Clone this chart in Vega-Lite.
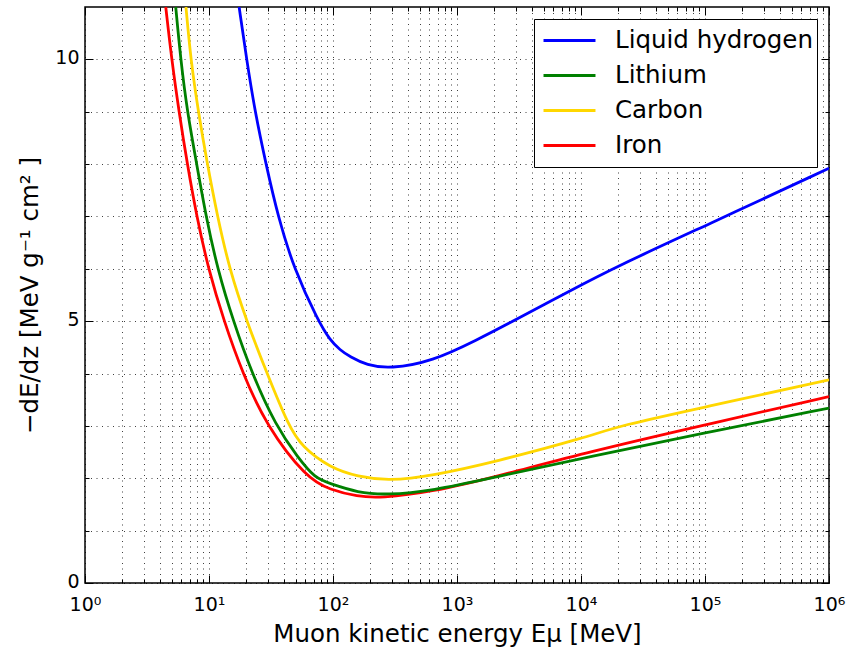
{
  "$schema": "https://vega.github.io/schema/vega-lite/v6.json",
  "width": 744,
  "height": 576,
  "autosize": {"type": "none"},
  "padding": {"left": 85, "top": 7, "right": 19, "bottom": 65},
  "background": "white",
  "config": {
    "font": "DejaVu Sans",
    "view": {"stroke": "black", "strokeWidth": 1.5},
    "legend": {
      "orient": "top-right",
      "offset": 12,
      "strokeColor": "black",
      "fillColor": "white",
      "padding": 4,
      "cornerRadius": 0,
      "symbolType": "stroke",
      "symbolSize": 2700,
      "symbolStrokeWidth": 3,
      "symbolOffset": 4,
      "clipHeight": 35,
      "labelFontSize": 24.5,
      "labelFont": "DejaVu Sans",
      "labelColor": "black",
      "labelLimit": 0,
      "labelOffset": 18,
      "rowPadding": 0
    }
  },
  "data": {
    "values": [
      {"material": "Iron", "E": 4.48, "dEdz": 11.0},
      {"material": "Iron", "E": 5.0, "dEdz": 10},
      {"material": "Iron", "E": 5.73, "dEdz": 9},
      {"material": "Iron", "E": 6.68, "dEdz": 8},
      {"material": "Iron", "E": 7.96, "dEdz": 7},
      {"material": "Iron", "E": 9.87, "dEdz": 6},
      {"material": "Iron", "E": 13.2, "dEdz": 5},
      {"material": "Iron", "E": 18.7, "dEdz": 4},
      {"material": "Iron", "E": 29.1, "dEdz": 3},
      {"material": "Iron", "E": 61.4, "dEdz": 2},
      {"material": "Iron", "E": 94.6, "dEdz": 1.78},
      {"material": "Iron", "E": 158, "dEdz": 1.65},
      {"material": "Iron", "E": 240, "dEdz": 1.62},
      {"material": "Iron", "E": 631, "dEdz": 1.74},
      {"material": "Iron", "E": 2000, "dEdz": 2.02},
      {"material": "Iron", "E": 11750, "dEdz": 2.51},
      {"material": "Iron", "E": 100000, "dEdz": 3.02},
      {"material": "Iron", "E": 1000000, "dEdz": 3.56},

      {"material": "Lithium", "E": 5.39, "dEdz": 11.0},
      {"material": "Lithium", "E": 5.91, "dEdz": 10},
      {"material": "Lithium", "E": 6.68, "dEdz": 9},
      {"material": "Lithium", "E": 7.96, "dEdz": 8},
      {"material": "Lithium", "E": 9.46, "dEdz": 7},
      {"material": "Lithium", "E": 11.7, "dEdz": 6},
      {"material": "Lithium", "E": 15.7, "dEdz": 5},
      {"material": "Lithium", "E": 22.2, "dEdz": 4},
      {"material": "Lithium", "E": 34.6, "dEdz": 3},
      {"material": "Lithium", "E": 52, "dEdz": 2.4},
      {"material": "Lithium", "E": 71.6, "dEdz": 2},
      {"material": "Lithium", "E": 94.6, "dEdz": 1.9},
      {"material": "Lithium", "E": 158, "dEdz": 1.725},
      {"material": "Lithium", "E": 270, "dEdz": 1.68},
      {"material": "Lithium", "E": 631, "dEdz": 1.76},
      {"material": "Lithium", "E": 2000, "dEdz": 2.02},
      {"material": "Lithium", "E": 11750, "dEdz": 2.41},
      {"material": "Lithium", "E": 100000, "dEdz": 2.87},
      {"material": "Lithium", "E": 1000000, "dEdz": 3.34},

      {"material": "Carbon", "E": 6.52, "dEdz": 11.0},
      {"material": "Carbon", "E": 7.12, "dEdz": 10},
      {"material": "Carbon", "E": 8.2, "dEdz": 9},
      {"material": "Carbon", "E": 9.69, "dEdz": 8},
      {"material": "Carbon", "E": 11.7, "dEdz": 7},
      {"material": "Carbon", "E": 14.6, "dEdz": 6},
      {"material": "Carbon", "E": 20.1, "dEdz": 5},
      {"material": "Carbon", "E": 29.4, "dEdz": 4},
      {"material": "Carbon", "E": 43.8, "dEdz": 3},
      {"material": "Carbon", "E": 56.2, "dEdz": 2.6},
      {"material": "Carbon", "E": 94.6, "dEdz": 2.2},
      {"material": "Carbon", "E": 158, "dEdz": 2.03},
      {"material": "Carbon", "E": 282, "dEdz": 1.95},
      {"material": "Carbon", "E": 631, "dEdz": 2.05},
      {"material": "Carbon", "E": 2000, "dEdz": 2.31},
      {"material": "Carbon", "E": 11750, "dEdz": 2.8},
      {"material": "Carbon", "E": 20000, "dEdz": 3.0},
      {"material": "Carbon", "E": 100000, "dEdz": 3.36},
      {"material": "Carbon", "E": 1000000, "dEdz": 3.88},

      {"material": "Liquid hydrogen", "E": 17.5, "dEdz": 11.0},
      {"material": "Liquid hydrogen", "E": 20.1, "dEdz": 10},
      {"material": "Liquid hydrogen", "E": 23.5, "dEdz": 9},
      {"material": "Liquid hydrogen", "E": 28.8, "dEdz": 8},
      {"material": "Liquid hydrogen", "E": 36.0, "dEdz": 7},
      {"material": "Liquid hydrogen", "E": 48.4, "dEdz": 6},
      {"material": "Liquid hydrogen", "E": 76.1, "dEdz": 5},
      {"material": "Liquid hydrogen", "E": 94.6, "dEdz": 4.64},
      {"material": "Liquid hydrogen", "E": 114, "dEdz": 4.45},
      {"material": "Liquid hydrogen", "E": 137, "dEdz": 4.32},
      {"material": "Liquid hydrogen", "E": 187, "dEdz": 4.16},
      {"material": "Liquid hydrogen", "E": 288, "dEdz": 4.09},
      {"material": "Liquid hydrogen", "E": 631, "dEdz": 4.23},
      {"material": "Liquid hydrogen", "E": 1445, "dEdz": 4.64},
      {"material": "Liquid hydrogen", "E": 2830, "dEdz": 5.0},
      {"material": "Liquid hydrogen", "E": 8130, "dEdz": 5.58},
      {"material": "Liquid hydrogen", "E": 20000, "dEdz": 6.06},
      {"material": "Liquid hydrogen", "E": 100000, "dEdz": 6.82},
      {"material": "Liquid hydrogen", "E": 1000000, "dEdz": 7.92}
    ]
  },
  "layer": [
    {
      "mark": {"type": "point", "opacity": 0},
      "encoding": {
        "x": {
          "field": "E", "type": "quantitative",
          "scale": {"type": "log", "domain": [1, 1000000], "nice": false},
          "axis": {
            "orient": "top", "title": null, "labels": false, "grid": false, "domain": false,
            "values": [1,2,3,4,5,6,7,8,9,10,20,30,40,50,60,70,80,90,100,200,300,400,500,600,700,800,900,1000,2000,3000,4000,5000,6000,7000,8000,9000,10000,20000,30000,40000,50000,60000,70000,80000,90000,100000,200000,300000,400000,500000,600000,700000,800000,900000,1000000],
            "tickColor": "black",
            "tickSize": {"condition": {"test": "abs(log(datum.value)/LN10 - round(log(datum.value)/LN10)) < 0.001", "value": -8}, "value": -4}
          }
        },
        "y": {
          "field": "dEdz", "type": "quantitative",
          "scale": {"domain": [0, 11], "nice": false, "zero": false},
          "axis": {
            "orient": "right", "title": null, "labels": false, "grid": false, "domain": false,
            "values": [0,1,2,3,4,5,6,7,8,9,10],
            "tickColor": "black",
            "tickSize": {"condition": {"test": "datum.value % 5 === 0", "value": -8}, "value": -4}
          }
        }
      }
    },
    {
      "mark": {"type": "line", "strokeWidth": 2.8, "clip": true, "interpolate": "basis"},
      "encoding": {
        "x": {
          "field": "E", "type": "quantitative",
          "scale": {"type": "log", "domain": [1, 1000000], "nice": false},
          "axis": {
            "orient": "bottom",
            "title": "Muon kinetic energy Eμ [MeV]",
            "titleFontSize": 24.5, "titleFontWeight": "normal", "titleColor": "black", "titlePadding": 4,
            "domain": false,
            "values": [1,2,3,4,5,6,7,8,9,10,20,30,40,50,60,70,80,90,100,200,300,400,500,600,700,800,900,1000,2000,3000,4000,5000,6000,7000,8000,9000,10000,20000,30000,40000,50000,60000,70000,80000,90000,100000,200000,300000,400000,500000,600000,700000,800000,900000,1000000],
            "grid": true, "gridColor": "black", "gridDash": [1, 4.5], "gridOpacity": 0.75, "gridWidth": 1,
            "tickColor": "black",
            "tickSize": {"condition": {"test": "abs(log(datum.value)/LN10 - round(log(datum.value)/LN10)) < 0.001", "value": -8}, "value": -4},
            "labelExpr": "abs(log(datum.value)/LN10 - round(log(datum.value)/LN10)) < 0.001 ? '10' + ['⁰','¹','²','³','⁴','⁵','⁶'][round(log(datum.value)/LN10)] : ''",
            "labelFontSize": 19, "labelColor": "black", "labelFlush": false, "labelOverlap": false, "labelPadding": 20
          }
        },
        "y": {
          "field": "dEdz", "type": "quantitative",
          "scale": {"domain": [0, 11], "nice": false, "zero": false},
          "axis": {
            "orient": "left",
            "title": "−dE/dz [MeV g⁻¹  cm² ]",
            "titleFontSize": 24.5, "titleFontWeight": "normal", "titleColor": "black", "titlePadding": 12,
            "domain": false,
            "values": [0,1,2,3,4,5,6,7,8,9,10],
            "grid": true, "gridColor": "black", "gridDash": [1, 4.5], "gridOpacity": 0.75, "gridWidth": 1,
            "tickColor": "black",
            "tickSize": {"condition": {"test": "datum.value % 5 === 0", "value": -8}, "value": -4},
            "labelExpr": "datum.value % 5 === 0 ? datum.label : ''",
            "labelFontSize": 19, "labelColor": "black", "labelFlush": false, "labelOverlap": false, "labelPadding": 14, "labelOffset": -2
          }
        },
        "color": {
          "field": "material", "type": "nominal",
          "scale": {"domain": ["Liquid hydrogen", "Lithium", "Carbon", "Iron"], "range": ["#0000ff", "#008000", "#ffd700", "#ff0000"]},
          "legend": {"title": null}
        }
      }
    }
  ],
  "resolve": {"axis": {"x": "independent", "y": "independent"}}
}
